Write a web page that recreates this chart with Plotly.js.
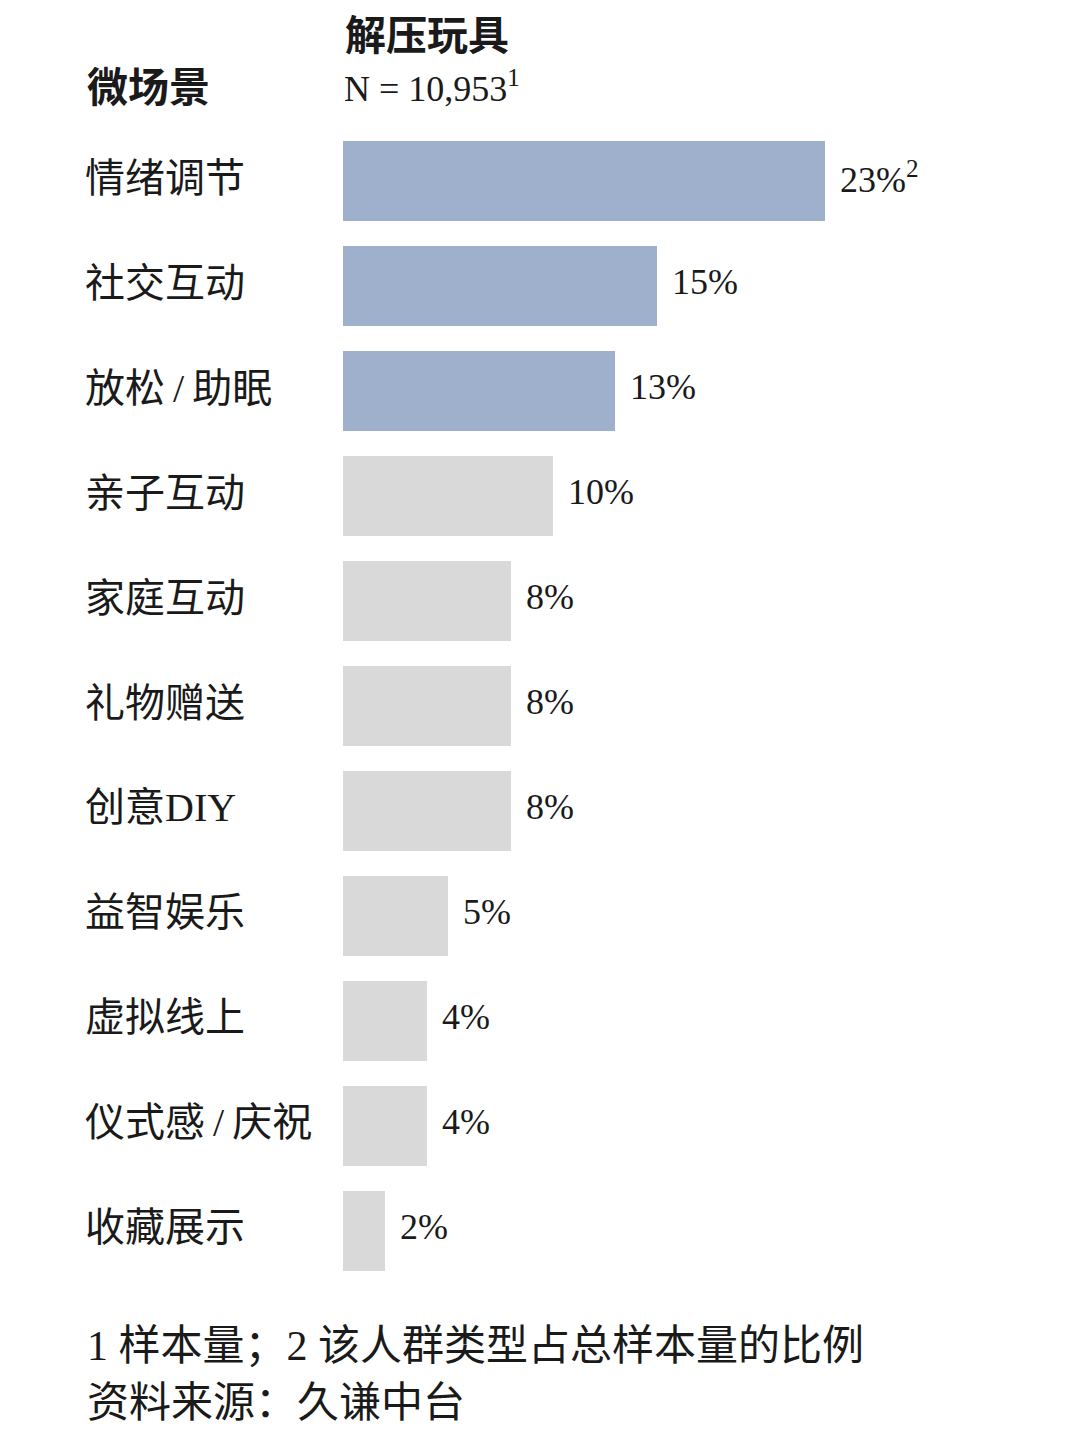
<!DOCTYPE html>
<html>
<head>
<meta charset="utf-8">
<script src="https://cdn.plot.ly/plotly-3.0.1.min.js"></script>
<style>
  html, body { margin: 0; padding: 0; background: #fff; }
  #chart { width: 1080px; height: 1434px; }
</style>
</head>
<body>
<div id="chart"></div>
<script>
// data
const scenes = ["情绪调节", "社交互动", "放松/助眠", "亲子互动", "家庭互动", "礼物赠送",
                "创意DIY", "益智娱乐", "虚拟线上", "仪式感/庆祝", "收藏展示"];
const shares = [23, 15, 13, 10, 8, 8, 8, 5, 4, 4, 2];
const topCount = 3;   // the first bars are drawn in blue
const groupTitle = "解压玩具";
const sampleSize = "10,953";

const BLUE = "#9eb0cc";
const GRAY = "#d9d9d9";
const FONT = "'Liberation Serif', 'Noto Sans CJK SC', serif";
const INK = "#1a1a1a";

// pixel helpers for paper coords (plot area: x 343..1055, y 128.5..1283.5)
const L = 343, W = 712, T = 128.5, H = 1155;
const px = x => (x - L) / W;
const py = y => (T + H - y) / H;

const data = [
    {
        type: "bar",
        orientation: "h",
        y: scenes,
        x: shares,
        width: 80 / 105,
        marker: { color: shares.map((v, i) => i < topCount ? BLUE : GRAY), line: { width: 0 } },
        hoverinfo: "none"
    }
];

const annotations = [];

scenes.forEach((s, i) => {
    annotations.push({
        xref: "paper", yref: "y", x: px(83), y: s,
        xanchor: "left", yanchor: "middle", yshift: 3,
        text: s.replace("/", "\u2009/\u2009"), showarrow: false,
        font: { family: FONT, size: 40, color: INK }
    });
    annotations.push({
        xref: "x", yref: "y", x: shares[i], y: s,
        xanchor: "left", yanchor: "middle", xshift: 13, yshift: 4,
        text: shares[i] + "%" + (i === 0 ? "<sup>2</sup>" : ""),
        showarrow: false,
        font: { family: FONT, size: 36, color: INK }
    });
});

// header
annotations.push({
    xref: "paper", yref: "paper", x: px(343), y: py(35),
    xanchor: "left", yanchor: "middle", showarrow: false,
    text: "<b>" + groupTitle + "</b>",
    font: { family: FONT, size: 41, color: INK }
});
annotations.push({
    xref: "paper", yref: "paper", x: px(342), y: py(86),
    xanchor: "left", yanchor: "middle", showarrow: false,
    text: "N = " + sampleSize + "<sup>1</sup>",
    font: { family: FONT, size: 36, color: INK }
});
annotations.push({
    xref: "paper", yref: "paper", x: px(85), y: py(87),
    xanchor: "left", yanchor: "middle", showarrow: false,
    text: "<b>微场景</b>",
    font: { family: FONT, size: 41, color: INK }
});

// footnotes
annotations.push({
    xref: "paper", yref: "paper", x: px(85), y: py(1347),
    xanchor: "left", yanchor: "middle", showarrow: false,
    text: "1 样本量；2 该人群类型占总样本量的比例",
    font: { family: FONT, size: 42, color: INK }
});
annotations.push({
    xref: "paper", yref: "paper", x: px(85), y: py(1404),
    xanchor: "left", yanchor: "middle", showarrow: false,
    text: "资料来源：久谦中台",
    font: { family: FONT, size: 42, color: INK }
});

const layout = {
    width: 1080,
    height: 1434,
    margin: { l: L, r: 1080 - L - W, t: T, b: 1434 - T - H, pad: 0 },
    paper_bgcolor: "#fff",
    plot_bgcolor: "#fff",
    showlegend: false,
    bargap: 0,
    xaxis: {
        range: [0, W / 20.95],
        visible: false,
        fixedrange: true
    },
    yaxis: {
        type: "category",
        categoryorder: "array",
        categoryarray: scenes,
        range: [scenes.length - 0.5, -0.5],
        visible: false,
        fixedrange: true
    },
    annotations: annotations
};

Plotly.newPlot("chart", data, layout, { displayModeBar: false, staticPlot: true });
</script>
</body>
</html>
